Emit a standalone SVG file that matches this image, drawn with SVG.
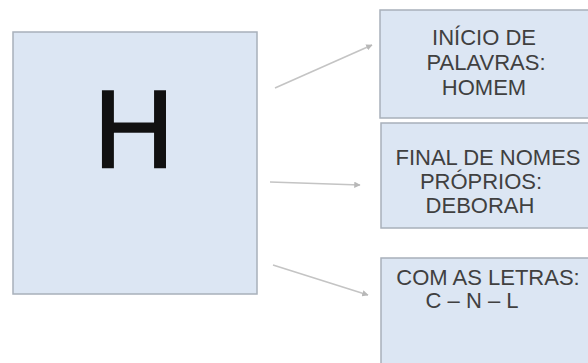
<svg xmlns="http://www.w3.org/2000/svg" width="588" height="363" viewBox="0 0 588 363">
<defs>
<style>
.box{fill:#dce6f3;stroke:#a8b0ba;stroke-width:1.5}
.lbl{font-family:"Liberation Sans",Arial,sans-serif;font-size:22px;fill:#404040;text-anchor:middle}
.con{stroke:#c4c4c4;stroke-width:1.6;fill:none;marker-end:url(#ah)}
</style>
<marker id="ah" viewBox="0 0 10 10" refX="9" refY="5" markerWidth="4" markerHeight="4" orient="auto">
<path d="M0,0 L10,5 L0,10 z" fill="#b8b8b8"/>
</marker>
</defs>
<rect width="588" height="363" fill="#ffffff"/>
<g id="node-h">
<rect class="box" x="13" y="32" width="244" height="262"/>
<text x="134" y="168" font-family="Liberation Sans,Arial,sans-serif" font-size="112" fill="#111111" stroke="#111111" stroke-width="1.5" text-anchor="middle">H</text>
</g>
<g id="node-inicio">
<rect class="box" x="380" y="10" width="215" height="108"/>
<text class="lbl" x="484" y="45">INÍCIO DE</text>
<text class="lbl" x="486" y="70">PALAVRAS:</text>
<text class="lbl" x="484" y="95">HOMEM</text>
</g>
<g id="node-final">
<rect class="box" x="381" y="123" width="214" height="105"/>
<text class="lbl" x="488" y="165">FINAL DE NOMES</text>
<text class="lbl" x="481" y="189">PRÓPRIOS:</text>
<text class="lbl" x="480" y="213">DEBORAH</text>
</g>
<g id="node-letras">
<rect class="box" x="381" y="258" width="214" height="115"/>
<text class="lbl" x="488" y="285">COM AS LETRAS:</text>
<text class="lbl" x="472" y="308">C – N – L</text>
</g>
<g id="connectors">
<line class="con" x1="275" y1="88" x2="372" y2="45"/>
<line class="con" x1="270" y1="182" x2="360" y2="185"/>
<line class="con" x1="273" y1="265" x2="368" y2="295"/>
</g>
</svg>
